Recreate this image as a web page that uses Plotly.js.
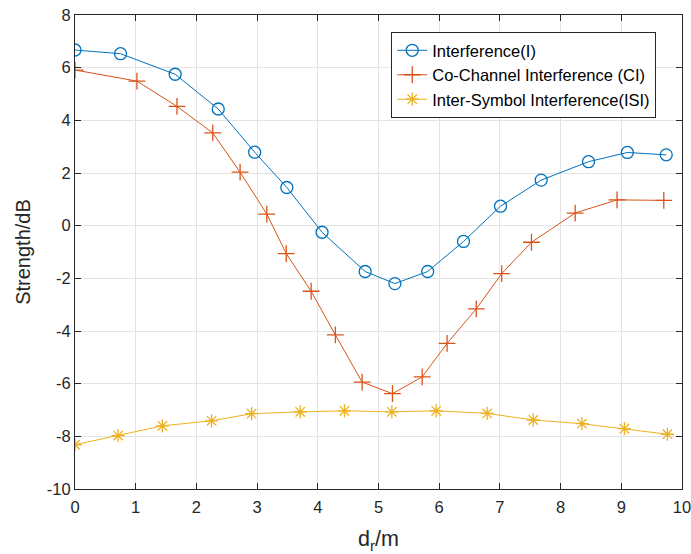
<!DOCTYPE html>
<html>
<head>
<meta charset="utf-8">
<script src="https://cdn.plot.ly/plotly-3.0.1.min.js"></script>
<style>html,body{margin:0;padding:0;background:#fff;}#chart{width:691px;height:554px;}</style>
</head>
<body>
<div id="chart"></div>
<script>
const seriesNames = ["Interference(I)", "Co-Channel Interference (CI)", "Inter-Symbol Interference(ISI)"];
const xI = [0, 0.75, 1.65, 2.36, 2.96, 3.49, 4.07, 4.78, 5.27, 5.81, 6.40, 7.01, 7.68, 8.46, 9.10, 9.74];
const yI = [6.67, 6.53, 5.75, 4.43, 2.79, 1.45, -0.25, -1.74, -2.20, -1.74, -0.60, 0.74, 1.73, 2.43, 2.78, 2.69];
const xCI = [0, 1.02, 1.68, 2.27, 2.72, 3.16, 3.48, 3.89, 4.29, 4.73, 5.23, 5.72, 6.13, 6.61, 7.03, 7.52, 8.24, 8.93, 9.70];
const yCI = [5.91, 5.49, 4.53, 3.52, 2.03, 0.44, -1.06, -2.49, -4.15, -5.94, -6.38, -5.74, -4.47, -3.16, -1.82, -0.63, 0.48, 0.98, 0.96];
const xISI = [0, 0.71, 1.44, 2.25, 2.91, 3.71, 4.44, 5.22, 5.95, 6.79, 7.55, 8.35, 9.05, 9.76];
const yISI = [-8.32, -7.97, -7.60, -7.41, -7.14, -7.07, -7.03, -7.07, -7.03, -7.13, -7.38, -7.52, -7.71, -7.92];
const xTicks = [0,1,2,3,4,5,6,7,8,9,10];
const yTicks = [-10,-8,-6,-4,-2,0,2,4,6,8];

const font = "Arial, 'Liberation Sans', Helvetica, sans-serif";
const traces = [
  {x: xI, y: yI, name: seriesNames[0], mode: "lines+markers", type: "scatter",
   line: {color: "#0072BD", width: 1},
   marker: {symbol: "circle-open", size: 12, color: "#0072BD", line: {width: 1.3, color: "#0072BD"}}},
  {x: xCI, y: yCI, name: seriesNames[1], mode: "lines+markers", type: "scatter",
   line: {color: "#D95319", width: 1},
   marker: {symbol: "cross-thin-open", size: 12, color: "#D95319", line: {width: 1.3, color: "#D95319"}}},
  {x: xISI, y: yISI, name: seriesNames[2], mode: "lines+markers", type: "scatter",
   line: {color: "#EDB120", width: 1},
   marker: {symbol: "asterisk-open", size: 11, color: "#EDB120", line: {width: 1.3, color: "#EDB120"}}}
];
const axisCommon = {
  showline: true, linecolor: "#262626", linewidth: 1, mirror: "ticks",
  ticks: "inside", ticklen: 6, tickcolor: "#262626", tickwidth: 1,
  showgrid: true, gridcolor: "#e3e3e3", gridwidth: 1, zeroline: false,
  ticklabeloverflow: "allow",
  tickfont: {family: font, size: 16.5, color: "#262626"}
};
const layout = {
  width: 691, height: 554,
  margin: {l: 75, r: 9, t: 15, b: 65},
  paper_bgcolor: "#ffffff", plot_bgcolor: "#ffffff",
  showlegend: true,
  legend: {x: 0.521, y: 0.964, xanchor: "left", yanchor: "top",
    bgcolor: "#ffffff", bordercolor: "#262626", borderwidth: 1,
    font: {family: font, size: 16.5, color: "#000000"}, tracegroupgap: 0},
  xaxis: Object.assign({}, axisCommon, {range: [0, 10], tickvals: xTicks, ticktext: xTicks.map(String),
    ticklabelstandoff: 3,
    title: {text: "d<sub>r</sub>/m", font: {family: font, size: 21.5, color: "#262626"}, standoff: 16}}),
  yaxis: Object.assign({}, axisCommon, {range: [-10, 8], tickvals: yTicks, ticktext: yTicks.map(String),
    title: {text: "Strength/dB", font: {family: font, size: 20, color: "#262626"}, standoff: 10}})
};
Plotly.newPlot("chart", traces, layout, {displayModeBar: false, staticPlot: true});
</script>
</body>
</html>
